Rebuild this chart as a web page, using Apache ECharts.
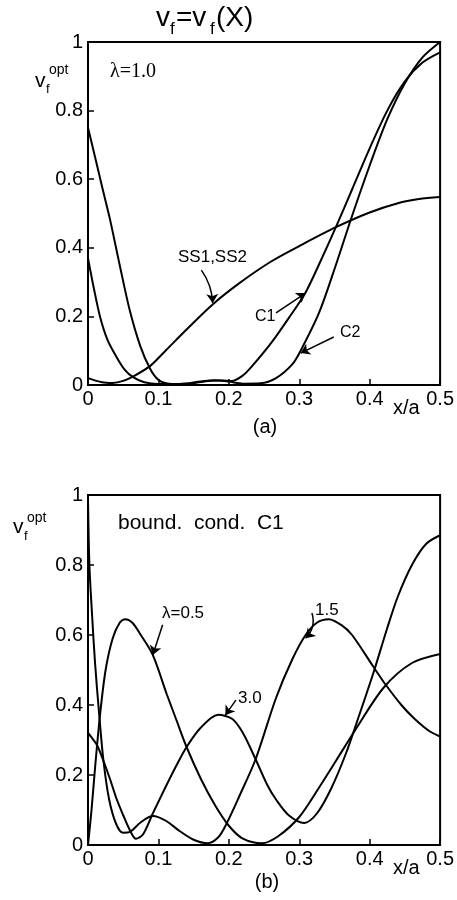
<!DOCTYPE html>
<html>
<head>
<meta charset="utf-8">
<script src="https://cdn.jsdelivr.net/npm/echarts@6/dist/echarts.min.js"></script>
<style>
  html, body { margin: 0; padding: 0; background: #fff; }
  #chart { width: 457px; height: 900px; }
</style>
</head>
<body>
<div id="chart"></div>
<script>
// 刻度
const xTicks = ['0', '0.1', '0.2', '0.3', '0.4', '0.5'];
const yTicks = ['0', '0.2', '0.4', '0.6', '0.8', '1'];

// (a) λ=1.0 : [x/a, vf]
const topSS = [[0, 0.02], [0.02, 0.008], [0.035, 0.006], [0.05, 0.012], [0.065, 0.026], [0.088, 0.055],
  [0.11, 0.1], [0.14, 0.162], [0.177, 0.235], [0.215, 0.297], [0.26, 0.36], [0.3, 0.405],
  [0.352, 0.46], [0.4, 0.503], [0.44, 0.53], [0.47, 0.542], [0.5, 0.548]];
const topC1 = [[0, 0.75], [0.01, 0.665], [0.02, 0.578], [0.031, 0.485], [0.045, 0.35], [0.059, 0.22],
  [0.074, 0.115], [0.088, 0.048], [0.1, 0.015], [0.115, 0.004], [0.14, 0.003], [0.17, 0.012],
  [0.19, 0.013], [0.205, 0.012], [0.22, 0.028], [0.233, 0.055], [0.261, 0.125], [0.285, 0.195],
  [0.309, 0.27], [0.33, 0.36], [0.352, 0.46], [0.375, 0.57], [0.4, 0.69], [0.425, 0.8],
  [0.45, 0.885], [0.475, 0.94], [0.5, 0.97]];
const topC2 = [[0, 0.37], [0.008, 0.285], [0.017, 0.2], [0.028, 0.13], [0.041, 0.08], [0.052, 0.045],
  [0.064, 0.023], [0.08, 0.008], [0.1, 0.003], [0.13, 0.003], [0.16, 0.01], [0.18, 0.014], [0.2, 0.01],
  [0.22, 0.004], [0.245, 0.005], [0.267, 0.02], [0.29, 0.06], [0.302, 0.1], [0.328, 0.21],
  [0.352, 0.35], [0.374, 0.487], [0.4, 0.64], [0.425, 0.775], [0.45, 0.88], [0.475, 0.955], [0.5, 1.0]];

// (b) bound. cond. C1
const botL05 = [[0, 0], [0.005, 0.1], [0.01, 0.22], [0.017, 0.37], [0.025, 0.5], [0.035, 0.59],
  [0.045, 0.635], [0.053, 0.645], [0.063, 0.635], [0.075, 0.6], [0.092, 0.543], [0.112, 0.43],
  [0.125, 0.36], [0.14, 0.28], [0.16, 0.19], [0.18, 0.115], [0.2, 0.055], [0.22, 0.018],
  [0.247, 0.005], [0.27, 0.025], [0.3, 0.08], [0.33, 0.17], [0.352, 0.24], [0.38, 0.33],
  [0.42, 0.45], [0.46, 0.52], [0.5, 0.546]];
const botL15 = [[0, 0.99], [0.002, 0.8], [0.006, 0.65], [0.01, 0.52], [0.016, 0.37], [0.022, 0.24],
  [0.03, 0.13], [0.04, 0.06], [0.05, 0.035], [0.06, 0.038], [0.075, 0.065], [0.092, 0.083],
  [0.11, 0.07], [0.13, 0.04], [0.15, 0.015], [0.17, 0.005], [0.185, 0.022], [0.196, 0.058],
  [0.215, 0.14], [0.238, 0.245], [0.267, 0.42], [0.29, 0.53], [0.309, 0.6], [0.325, 0.635],
  [0.342, 0.645], [0.36, 0.628], [0.375, 0.6], [0.405, 0.51], [0.422, 0.46], [0.445, 0.4],
  [0.464, 0.36], [0.485, 0.325], [0.5, 0.31]];
const botL30 = [[0, 0.32], [0.006, 0.305], [0.013, 0.285], [0.022, 0.24], [0.031, 0.19], [0.04, 0.135],
  [0.05, 0.085], [0.06, 0.04], [0.068, 0.018], [0.078, 0.03], [0.092, 0.09], [0.11, 0.165],
  [0.125, 0.225], [0.14, 0.28], [0.16, 0.335], [0.185, 0.372], [0.205, 0.36], [0.22, 0.32],
  [0.238, 0.245], [0.255, 0.17], [0.267, 0.13], [0.285, 0.085], [0.307, 0.063], [0.325, 0.09],
  [0.345, 0.16], [0.366, 0.26], [0.385, 0.37], [0.405, 0.49], [0.425, 0.62], [0.44, 0.71],
  [0.46, 0.8], [0.48, 0.86], [0.5, 0.885]];

// 箭头 (数据坐标: 尾 -> 头)
const topArrows = [
  {coords: [[0.161, 0.335], [0.177, 0.239]], curve: 0.15},
  {coords: [[0.267, 0.21], [0.309, 0.268]], curve: 0},
  {coords: [[0.349, 0.14], [0.302, 0.093]], curve: 0}
];
const botArrows = [
  {coords: [[0.106, 0.629], [0.092, 0.543]], curve: 0},
  {coords: [[0.318, 0.663], [0.309, 0.591]], curve: 0.3},
  {coords: [[0.21, 0.414], [0.195, 0.371]], curve: 0}
];

const FONT = 'Liberation Sans';
const chart = echarts.init(document.getElementById('chart'));

const makeX = (i) => ({
  gridIndex: i, type: 'value', min: 0, max: 0.5, interval: 0.1,
  axisLine: {lineStyle: {color: '#000', width: 2}},
  axisTick: {inside: true, length: 6, lineStyle: {color: '#000', width: 1.5}},
  axisLabel: {color: '#000', fontSize: 20, fontFamily: FONT, margin: 4,
    formatter: (v) => xTicks[Math.round(v / 0.1)]},
  splitLine: {show: false}
});
const makeY = (i) => ({
  gridIndex: i, type: 'value', min: 0, max: 1, interval: 0.2,
  axisLine: {lineStyle: {color: '#000', width: 2}},
  axisTick: {inside: true, length: 6, lineStyle: {color: '#000', width: 1.5}},
  axisLabel: {color: '#000', fontSize: 20, fontFamily: FONT, margin: 5,
    formatter: (v) => yTicks[Math.round(v / 0.2)]},
  splitLine: {show: false}
});
const curve = (data, i) => ({
  type: 'line', xAxisIndex: i, yAxisIndex: i, data: data,
  smooth: 0.3, showSymbol: false, silent: true,
  lineStyle: {color: '#000', width: 2}
});
const arrows = (list, i) => list.map((a) => ({
  type: 'lines', coordinateSystem: 'cartesian2d', xAxisIndex: i, yAxisIndex: i,
  symbol: ['none', 'arrow'], symbolSize: 9, silent: true,
  lineStyle: {color: '#000', width: 1.5, opacity: 1, curveness: a.curve},
  data: [{coords: a.coords}]
}));

const txt = (text, left, y, size, family, align) => ({
  type: 'text', x: left, y: y,
  style: {text: text, fill: '#000', font: size + 'px "' + (family || FONT) + '"',
    verticalAlign: 'middle', align: align || 'left'}
});

chart.setOption({
  animation: false,
  backgroundColor: '#fff',
  grid: [
    {left: 88, top: 42, width: 354, height: 343, show: true, borderColor: '#000', borderWidth: 2},
    {left: 88, top: 495, width: 354, height: 350, show: true, borderColor: '#000', borderWidth: 2}
  ],
  xAxis: [makeX(0), makeX(1)],
  yAxis: [makeY(0), makeY(1)],
  series: [
    curve(topSS, 0), curve(topC1, 0), curve(topC2, 0),
    curve(botL05, 1), curve(botL15, 1), curve(botL30, 1)
  ].concat(arrows(topArrows, 0), arrows(botArrows, 1)),
  graphic: [
    // 标题 v_f=v_f(X)
    txt('v', 156, 18, 28), txt('f', 170, 29, 17), txt('=v', 176, 18, 28),
    txt('f', 210, 29, 17), txt('(X)', 216, 18, 28),
    // 纵轴名
    txt('v', 35, 81, 21), txt('f', 46, 89, 13), txt('opt', 49, 70, 14),
    txt('v', 13, 527, 21), txt('f', 24, 536, 13), txt('opt', 27, 518, 14),
    // 横轴名 / 子图编号
    txt('x/a', 393, 408, 20), txt('x/a', 393, 868, 20),
    txt('(a)', 265, 427, 20, FONT, 'center'),
    txt('(b)', 267, 882, 20, FONT, 'center'),
    // 注释
    txt('λ=1.0', 110, 72, 20, 'Liberation Serif'),
    txt('bound.  cond.  C1', 118, 523, 21),
    txt('SS1,SS2', 178, 257, 17),
    txt('C1', 255, 317, 16),
    txt('C2', 340, 333, 16),
    txt('λ=0.5', 162, 613, 17),
    txt('1.5', 315, 610, 17),
    txt('3.0', 238, 698, 17)
  ]
});
</script>
</body>
</html>
